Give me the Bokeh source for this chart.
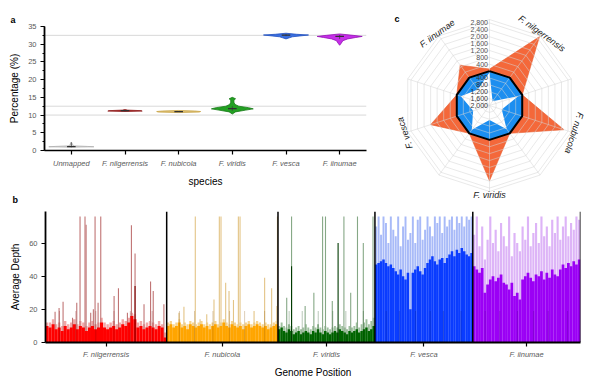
import numpy as np
from bokeh.plotting import figure
from bokeh.models import Range1d, FixedTicker, SingleIntervalTicker, Span, Title
from bokeh.embed import file_html
from bokeh.resources import INLINE
from bokeh.core.properties import value

FONT = "Liberation Sans"
TICK_GREY = "#5a5a5a"

# ---------------- Panel a data ----------------
a_categories = ["Unmapped", "F. nilgerrensis", "F. nubicola", "F. viridis", "F. vesca", "F. iinumae"]
a_ref_lines = [32.5, 12.5, 10.0]

unm_y = [0.95, 1.05, 1.15, 1.3, 1.6, 2.0, 2.4]
unm_w = [0.0, 0.42, 0.3, 0.06, 0.02, 0.015, 0.0]
nil_y = [11.0, 11.12, 11.25, 11.4, 11.55]
nil_w = [0.0, 0.32, 0.3, 0.05, 0.0]
nub_y = [10.7, 10.85, 11.0, 11.15, 11.3]
nub_w = [0.0, 0.38, 0.41, 0.3, 0.0]
vir_y = [10.3, 10.9, 11.4, 11.75, 12.1, 12.5, 13.0, 13.6, 14.2, 14.6, 15.0]
vir_w = [0.0, 0.06, 0.25, 0.39, 0.3, 0.12, 0.05, 0.03, 0.03, 0.06, 0.0]
ves_y = [31.5, 31.8, 32.1, 32.4, 32.6, 32.8, 33.1]
ves_w = [0.0, 0.06, 0.12, 0.3, 0.42, 0.2, 0.0]
iin_y = [29.7, 30.3, 31.0, 31.5, 31.9, 32.2, 32.5, 32.9]
iin_w = [0.0, 0.03, 0.06, 0.15, 0.3, 0.42, 0.25, 0.0]
a_median = [1.1, 11.25, 11.0, 11.8, 32.55, 32.2]
a_low = [0.9, 11.1, 10.85, 11.2, 32.3, 31.5]
a_high = [2.3, 11.45, 11.15, 12.5, 32.8, 32.6]

a_fill = ["#d9d9d9", "#b22222", "#dcc074", "#22a022", "#3a6fe0", "#c62fe8"]
a_line = ["#b0b0b0", "#8b1a1a", "#c9a448", "#177a17", "#1f4fbf", "#9412b5"]

# ---------------- Panel c data ----------------
c_species = ["F. nilgerrensis", "F. nubicola", "F. viridis", "F. vesca", "F. iinumae"]
c_outer = [2950, 2550, 2380, 1600, 900]          # orange series at species spokes
c_outer_between = [120, 0, 0, 0, 0]              # orange series at spokes between species
c_inner = [1700, 1250, 1150, 1000, 850]          # inner (reversed) series at species spokes
c_inner_between = [80, 250, 300, 250, 250]       # inner series at spokes between species
c_outer_ticks = [400, 800, 1200, 1600, 2000, 2400, 2800]
c_outer_max = 3000
c_inner_ticks = [400, 800, 1200, 1600, 2000]

# ---------------- Panel b data ----------------
b_species = ["F. nilgerrensis", "F. nubicola", "F. viridis", "F. vesca", "F. iinumae"]
b_lengths = [270, 248, 216, 218, 240]
b_yticks = [0, 20, 40, 60]
b_ymax = 79
b_chrom_frac = [0.115, 0.25, 0.415, 0.565, 0.70, 0.88]
b_chrom_h = 19

nil_base = [10, 9, 11, 8, 9, 7, 10, 8, 9, 11, 8, 10, 9, 7, 9, 10, 8, 9, 12, 9,
            8, 9, 10, 8, 9, 11, 10, 12, 16, 14, 9, 10, 8, 9, 10, 9, 8, 10, 9, 3]
nil_upper = [12, 12, 14, 11, 12, 10, 13, 11, 12, 14, 11, 13, 12, 10, 12, 13, 11, 12, 15, 12,
             11, 12, 13, 11, 12, 14, 13, 15, 18, 17, 12, 13, 11, 12, 13, 12, 11, 13, 11, 6]
nub_base = [10, 11, 9, 10, 12, 9, 10, 8, 11, 10, 9, 10, 11, 9, 10, 8, 10, 11, 9, 10,
            12, 10, 9, 11, 10, 9, 10, 8, 10, 11, 9, 10, 11, 10, 9, 10, 8, 9, 10, 11]
nub_upper = [12, 13, 11, 12, 14, 11, 12, 11, 13, 12, 11, 12, 13, 11, 12, 11, 12, 13, 11, 12,
             14, 12, 11, 13, 12, 11, 12, 11, 12, 13, 11, 12, 13, 12, 11, 12, 11, 11, 12, 13]
vir_base = [8, 9, 7, 6, 8, 7, 5, 6, 7, 5, 6, 7, 6, 5, 7, 6, 8, 6, 5, 7,
            6, 5, 6, 7, 6, 8, 7, 6, 5, 7, 6, 7, 8, 6, 7, 8, 9, 7, 8, 10]
vir_upper = [10, 12, 10, 9, 11, 10, 8, 9, 10, 8, 9, 11, 9, 8, 10, 9, 11, 9, 8, 10,
             9, 8, 9, 10, 9, 11, 10, 9, 8, 10, 9, 10, 12, 9, 11, 12, 14, 11, 13, 15]
ves_base = [47, 48, 49, 50, 48, 46, 47, 45, 43, 41, 44, 40, 38, 42, 20, 42, 44, 46, 43, 41,
            45, 48, 50, 52, 49, 47, 50, 51, 48, 51, 53, 55, 52, 56, 54, 57, 55, 53, 52, 54]
ves_upper = [70, 76, 65, 76, 72, 60, 76, 68, 64, 76, 58, 70, 76, 62, 66, 76, 60, 74, 76, 62,
             68, 76, 70, 64, 76, 72, 76, 66, 76, 70, 74, 76, 68, 76, 72, 76, 70, 76, 74, 76]
iin_base = [46, 44, 42, 45, 30, 35, 38, 40, 37, 39, 41, 36, 35, 32, 36, 28, 30, 26, 38, 40,
            42, 39, 37, 41, 40, 43, 38, 42, 39, 44, 41, 40, 44, 47, 45, 48, 46, 49, 47, 50]
iin_upper = [65, 76, 58, 70, 50, 62, 76, 60, 68, 55, 72, 64, 58, 76, 52, 66, 60, 55, 70, 62,
             76, 58, 66, 72, 60, 76, 64, 70, 58, 74, 66, 76, 62, 70, 76, 64, 72, 68, 76, 74]

nil_spk_pos = [0.079, 0.112, 0.145, 0.223, 0.258, 0.285, 0.326, 0.335, 0.373, 0.395, 0.409,
               0.434, 0.456, 0.566, 0.602, 0.676, 0.709, 0.739, 0.813, 0.867, 0.889, 0.977]
nil_spk_h = [18.6, 20.8, 24.6, 15, 24, 76, 76, 71, 18, 20, 76,
             24, 76, 28, 32.7, 18, 70.7, 53.6, 23, 36.8, 31, 23]
nub_spk_pos = [0.11, 0.155, 0.257, 0.3, 0.36, 0.425, 0.473, 0.488, 0.53, 0.56, 0.6,
               0.644, 0.659, 0.785, 0.88, 0.943, 0.99, 0.995]
nub_spk_h = [18, 21.6, 76, 14, 17, 26, 76, 76, 36, 31, 25.7, 76, 76, 19, 39, 32.7, 22, 76]
vir_spk_pos = [0.09, 0.14, 0.28, 0.37, 0.46, 0.49, 0.56, 0.68, 0.75, 0.82, 0.88, 0.98]
vir_spk_h = [27, 76, 22, 30, 76, 76, 25, 76, 30, 76, 60, 76]
ves_spk_pos = []
ves_spk_h = []
iin_spk_pos = []
iin_spk_h = []
nil_dark_pos = [0.739]
nil_dark_h = [34]
vir_dark_pos = [0.14, 0.62]
vir_dark_h = [46, 60]

b_base = [nil_base, nub_base, vir_base, ves_base, iin_base]
b_upper = [nil_upper, nub_upper, vir_upper, ves_upper, iin_upper]
b_spk = [(nil_spk_pos, nil_spk_h), (nub_spk_pos, nub_spk_h), (vir_spk_pos, vir_spk_h),
         (ves_spk_pos, ves_spk_h), (iin_spk_pos, iin_spk_h)]
b_dark = [(nil_dark_pos, nil_dark_h), ([], []), (vir_dark_pos, vir_dark_h), ([], []), ([], [])]

b_col = ["#ff0000", "#ffa500", "#006400", "#0a3cff", "#9b00f5"]
b_light = ["#f2a6a6", "#f7d48e", "#9fc09f", "#a8baf8", "#ddb4f7"]
b_spkcol = ["#c07474", "#e3c486", "#86a886", "#7f95e8", "#c68ee8"]
b_darkcol = ["#7a0000", "#8a5200", "#003a00", "#001a80", "#4a0080"]


def style_axis(ax):
    ax.axis_line_color = "black"
    ax.axis_line_width = 1.8
    ax.major_tick_line_color = "black"
    ax.major_tick_line_width = 1.2
    ax.minor_tick_line_color = "black"
    ax.major_tick_in = 0
    ax.major_tick_out = 4
    ax.minor_tick_in = 0
    ax.minor_tick_out = 2
    ax.major_label_text_font = FONT
    ax.major_label_text_font_size = "7.5px"
    ax.major_label_text_color = TICK_GREY
    ax.axis_label_text_font = FONT
    ax.axis_label_text_font_size = "10px"
    ax.axis_label_text_font_style = "normal"
    ax.axis_label_text_color = "black"
    ax.major_label_standoff = 4
    ax.axis_label_standoff = 5


def panel_title(letter, offset, standoff):
    return Title(text=letter, align="left", offset=offset, standoff=standoff,
                 text_font=FONT, text_font_size="9px", text_font_style="bold", text_color="black")


# ================= Panel a =================
pa = figure(width=390, height=194, x_range=Range1d(-0.5, 5.5), y_range=Range1d(0, 35),
            output_backend="svg", toolbar_location=None,
            min_border_left=44, min_border_right=24, min_border_top=26, min_border_bottom=44,
            styles={"position": "absolute", "left": "0px", "top": "0px"})
pa.title = panel_title("a", -34, 3)
pa.grid.visible = False
pa.outline_line_color = None
pa.border_fill_alpha = 0
pa.background_fill_alpha = 0
for yv in a_ref_lines:
    pa.add_layout(Span(location=yv, dimension="width", line_color="#d9d9d9", line_width=1, level="underlay"))

profiles = [(unm_y, unm_w), (nil_y, nil_w), (nub_y, nub_w), (vir_y, vir_w), (ves_y, ves_w), (iin_y, iin_w)]
for i, (yy, ww) in enumerate(profiles):
    yy = np.array(yy, float)
    ww = np.array(ww, float)
    xs = np.concatenate([i + ww, i - ww[::-1]])
    ys = np.concatenate([yy, yy[::-1]])
    pa.patch(xs, ys, fill_color=a_fill[i], line_color=a_line[i], line_width=0.8)
idx = list(range(len(a_categories)))
pa.segment(x0=idx, y0=a_low, x1=idx, y1=a_high, line_color="#404040", line_width=0.8)
pa.segment(x0=[i - 0.08 for i in idx], y0=a_median, x1=[i + 0.08 for i in idx], y1=a_median,
           line_color="#303030", line_width=1.2)

pa.xaxis.ticker = FixedTicker(ticks=idx)
pa.xaxis.major_label_overrides = {i: a_categories[i] for i in idx}
pa.yaxis.ticker = SingleIntervalTicker(interval=5, num_minor_ticks=2)
style_axis(pa.xaxis[0])
style_axis(pa.yaxis[0])
pa.xaxis.major_label_text_font_style = "italic"
pa.xaxis.axis_line_width = 1.4
pa.xaxis.axis_label = "species"
pa.yaxis.axis_label = "Percentage (%)"

# ================= Panel c =================
PX = 0.0172               # pixels per value unit
U = 1.0 / PX
ZERO = max(c_inner_ticks)  # radial offset of the zero ring
CW, CH = 210, 200
cx, cy = 99, 105           # centre, px from left / top of this panel
pc = figure(width=CW, height=CH, x_range=Range1d(-cx * U, (CW - cx) * U),
            y_range=Range1d(-(CH - cy) * U, cy * U), output_backend="svg", title=None,
            toolbar_location=None, x_axis_type=None, y_axis_type=None,
            min_border=0, min_border_left=0, min_border_right=0, min_border_top=0, min_border_bottom=0,
            styles={"position": "absolute", "left": "390px", "top": "0px"})
pc.grid.visible = False
pc.outline_line_color = None
pc.background_fill_alpha = 0
pc.border_fill_alpha = 0

ang = np.deg2rad(np.arange(10) * 36.0)


def ring(u):
    a = np.append(ang, ang[0])
    return list(u * np.sin(a)), list(u * np.cos(a))


def poly(vals):
    vals = np.asarray(vals, float)
    return list(vals * np.sin(ang)), list(vals * np.cos(ang))


outer = np.zeros(10)
outer[1::2] = c_outer
outer[0::2] = c_outer_between
inner = np.zeros(10)
inner[1::2] = c_inner
inner[0::2] = c_inner_between

ox, oy = poly(ZERO + outer)
pc.patch(ox, oy, fill_color="#f4683a", line_color="#e85a2c", line_width=0.6)
bx, by = ring(ZERO)
pc.patch(bx, by, fill_color="#1c8ef0", line_color=None)
ix, iy = poly(ZERO - inner)
pc.patch(ix, iy, fill_color="white", line_color=None)

ring_vals = [ZERO - t for t in c_inner_ticks[:-1]] + [ZERO + t for t in c_outer_ticks] + [ZERO + c_outer_max]
rxs, rys = [], []
for u in ring_vals:
    a, b = ring(u)
    rxs.append(a)
    rys.append(b)
pc.multi_line(rxs, rys, line_color="#d4d4d4", line_alpha=0.75, line_width=0.7)
umax = ZERO + c_outer_max
pc.multi_line([[0, umax * np.sin(t)] for t in ang], [[0, umax * np.cos(t)] for t in ang],
              line_color="#d4d4d4", line_alpha=0.75, line_width=0.7)
kx, ky = ring(ZERO)
pc.line(kx, ky, line_color="black", line_width=2)

pc.text(x=[-1.5 * U] * len(c_outer_ticks), y=[ZERO + t for t in c_outer_ticks],
        text=[f"{t:,}" for t in c_outer_ticks], text_font=value(FONT), text_font_size=value("7px"),
        text_color="#505050", text_align="right", text_baseline="middle")
pc.text(x=[-1.5 * U] * len(c_inner_ticks), y=[ZERO - t for t in c_inner_ticks],
        text=[f"{t:,}" for t in c_inner_ticks], text_font=value(FONT), text_font_size=value("7px"),
        text_color="#333333", text_align="right", text_baseline="middle")

sp_ang = np.deg2rad(np.arange(5) * 72.0 + 36.0)
LR = 89 * U
rot = [(-a if abs(np.rad2deg(a) - 180) > 1 else 0.0) for a in sp_ang]
pc.text(x=list(LR * np.sin(sp_ang)), y=list(LR * np.cos(sp_ang)), text=c_species, angle=rot,
        text_font=value(FONT), text_font_size=value("9px"), text_font_style="italic",
        text_color="#222222", text_align="center", text_baseline="middle")
pc.text(x=[(4 - cx) * U], y=[(cy - 18) * U], text=["c"], text_font=value(FONT),
        text_font_size=value("9px"), text_font_style="bold", text_color="black",
        text_align="left", text_baseline="middle")

# ================= Panel b =================
starts = np.concatenate([[0], np.cumsum(b_lengths)[:-1]]).astype(float)
total = float(sum(b_lengths))
centers = [float(s + L / 2) for s, L in zip(starts, b_lengths)]
pb = figure(width=600, height=204, x_range=Range1d(0, total), y_range=Range1d(0, b_ymax),
            output_backend="svg", toolbar_location=None,
            min_border_left=45, min_border_right=20, min_border_top=27, min_border_bottom=46,
            styles={"position": "absolute", "left": "0px", "top": "184px"})
pb.title = panel_title("b", -33, 14)
pb.grid.visible = False
pb.outline_line_color = None
pb.border_fill_alpha = 0
pb.background_fill_alpha = 0

for k in range(5):
    s, L = starts[k], b_lengths[k]
    n = len(b_base[k])
    w = L / n
    xs = s + (np.arange(n) + 0.5) * w
    pb.vbar(x=xs, width=w * 0.8, top=b_upper[k], bottom=0, fill_color=b_light[k], line_color=None)
    sp, sh = b_spk[k]
    if sp:
        px = [s + f * L for f in sp]
        pb.segment(x0=px, y0=[0] * len(px), x1=px, y1=sh, line_color=b_spkcol[k], line_width=1.1)
    pb.vbar(x=xs, width=w * 1.02, top=b_base[k], bottom=0, fill_color=b_col[k], line_color=None)
    dp, dh = b_dark[k]
    if dp:
        px = [s + f * L for f in dp]
        pb.segment(x0=px, y0=[0] * len(px), x1=px, y1=dh, line_color=b_darkcol[k], line_width=1.1)
    cxs = [s + f * L for f in b_chrom_frac]
    pb.segment(x0=cxs, y0=[0] * len(cxs), x1=cxs, y1=[b_chrom_h] * len(cxs),
               line_color=b_darkcol[k], line_alpha=0.7, line_width=0.8, line_dash="1 1")

bounds = list(starts[1:]) + [total]
pb.segment(x0=bounds, y0=[0] * len(bounds), x1=bounds, y1=[b_ymax] * len(bounds),
           line_color="black", line_width=1.5)

pb.xaxis.ticker = FixedTicker(ticks=centers)
pb.xaxis.major_label_overrides = {c: n for c, n in zip(centers, b_species)}
pb.yaxis.ticker = FixedTicker(ticks=b_yticks)
style_axis(pb.xaxis[0])
style_axis(pb.yaxis[0])
pb.xaxis.major_label_text_font_style = "italic"
pb.xaxis.major_label_standoff = 3
pb.xaxis.axis_label = "Genome Position"
pb.yaxis.axis_label = "Average Depth"

with open("out.html", "w") as f:
    f.write(file_html([pb, pa, pc], INLINE))
